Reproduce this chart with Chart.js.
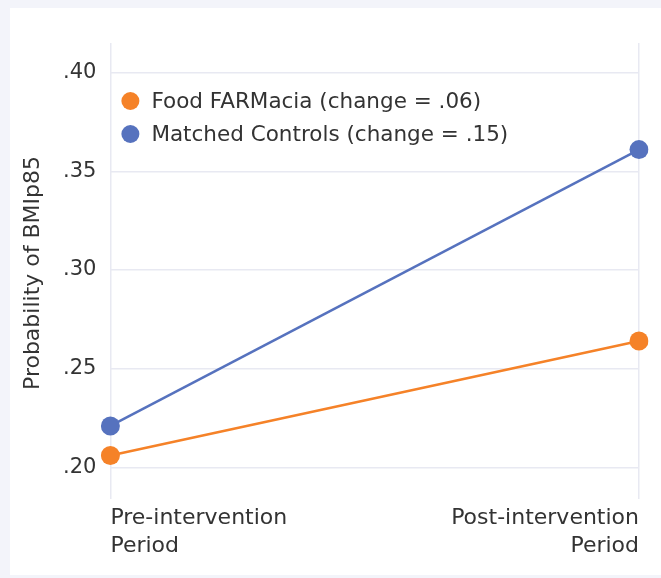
<!DOCTYPE html>
<html>
<head>
<meta charset="utf-8">
<script src="https://cdn.jsdelivr.net/npm/chart.js@4/dist/chart.umd.min.js"></script>
<style>
  html, body { margin: 0; padding: 0; background: #f3f4fa; }
  .card { position: absolute; left: 10px; top: 8px; width: 651px; height: 567px; background: #fff; }
</style>
</head>
<body>
<div class="card"><canvas id="bmiChart" width="651" height="567"></canvas></div>
<script>
const periods = [["Pre-intervention", "Period"], ["Post-intervention", "Period"]];
const farmacia = [0.206, 0.264];
const controls = [0.221, 0.361];
const yTicks = [0.20, 0.25, 0.30, 0.35, 0.40];
const yTitle = 'Probability of BMIp85';

const orange = 'rgb(245, 130, 40)';
const blue = 'rgb(86, 114, 190)';
const textColor = '#333333';
const fontFamily = '"DejaVu Sans", sans-serif';

// legend sits inside the plot, top left; y title drawn by hand
const extras = {
  id: 'extras',
  afterDatasetsDraw(chart) {
    const { ctx, chartArea } = chart;
    ctx.save();
    ctx.font = '21.5px ' + fontFamily;
    ctx.textBaseline = 'middle';
    chart.data.datasets.forEach((ds, i) => {
      const x = chartArea.left + 20;
      const y = chartArea.top + 58 + i * 33;
      ctx.beginPath();
      ctx.arc(x, y, 9, 0, Math.PI * 2);
      ctx.fillStyle = ds.backgroundColor;
      ctx.fill();
      ctx.fillStyle = textColor;
      ctx.fillText(ds.label, x + 21, y + 1);
    });

    ctx.translate(23, (chartArea.top + chartArea.bottom) / 2 + 2);
    ctx.rotate(-Math.PI / 2);
    ctx.font = '22px ' + fontFamily;
    ctx.textAlign = 'center';
    ctx.fillText(yTitle, 0, 0);
    ctx.restore();
  }
};

const chart = new Chart(document.getElementById('bmiChart'), {
  type: 'line',
  data: {
    labels: periods,
    datasets: [{
      label: 'Food FARMacia (change = .06)',
      data: farmacia,
      borderColor: orange,
      backgroundColor: orange,
      borderWidth: 2.5,
      pointRadius: 9.5,
      pointHoverRadius: 9.5,
      pointBorderWidth: 0
    }, {
      label: 'Matched Controls (change = .15)',
      data: controls,
      borderColor: blue,
      backgroundColor: blue,
      borderWidth: 2.5,
      pointRadius: 9.5,
      pointHoverRadius: 9.5,
      pointBorderWidth: 0
    }]
  },
  options: {
    responsive: false,
    animation: false,
    layout: { padding: { top: 35, right: 22, bottom: 9, left: 39 } },
    plugins: { legend: { display: false }, tooltip: { enabled: false } },
    scales: {
      x: {
        offset: false,
        grid: { color: '#e8e9f2', lineWidth: 1.5, drawTicks: false },
        border: { display: false },
        ticks: {
          align: 'inner',
          maxRotation: 0,
          padding: 6,
          color: textColor,
          font: { family: fontFamily, size: 22, lineHeight: 1.25 }
        }
      },
      y: {
        min: 0.184,
        max: 0.415,
        afterBuildTicks: (scale) => { scale.ticks = yTicks.map(v => ({ value: v })); },
        grid: { color: '#e8e9f2', lineWidth: 1.5, drawTicks: false },
        border: { display: false },
        ticks: {
          padding: 14,
          color: textColor,
          font: { family: fontFamily, size: 21 },
          callback: (v) => v.toFixed(2).replace(/^0/, '')
        }
      }
    }
  },
  plugins: [extras]
});
</script>
</body>
</html>
